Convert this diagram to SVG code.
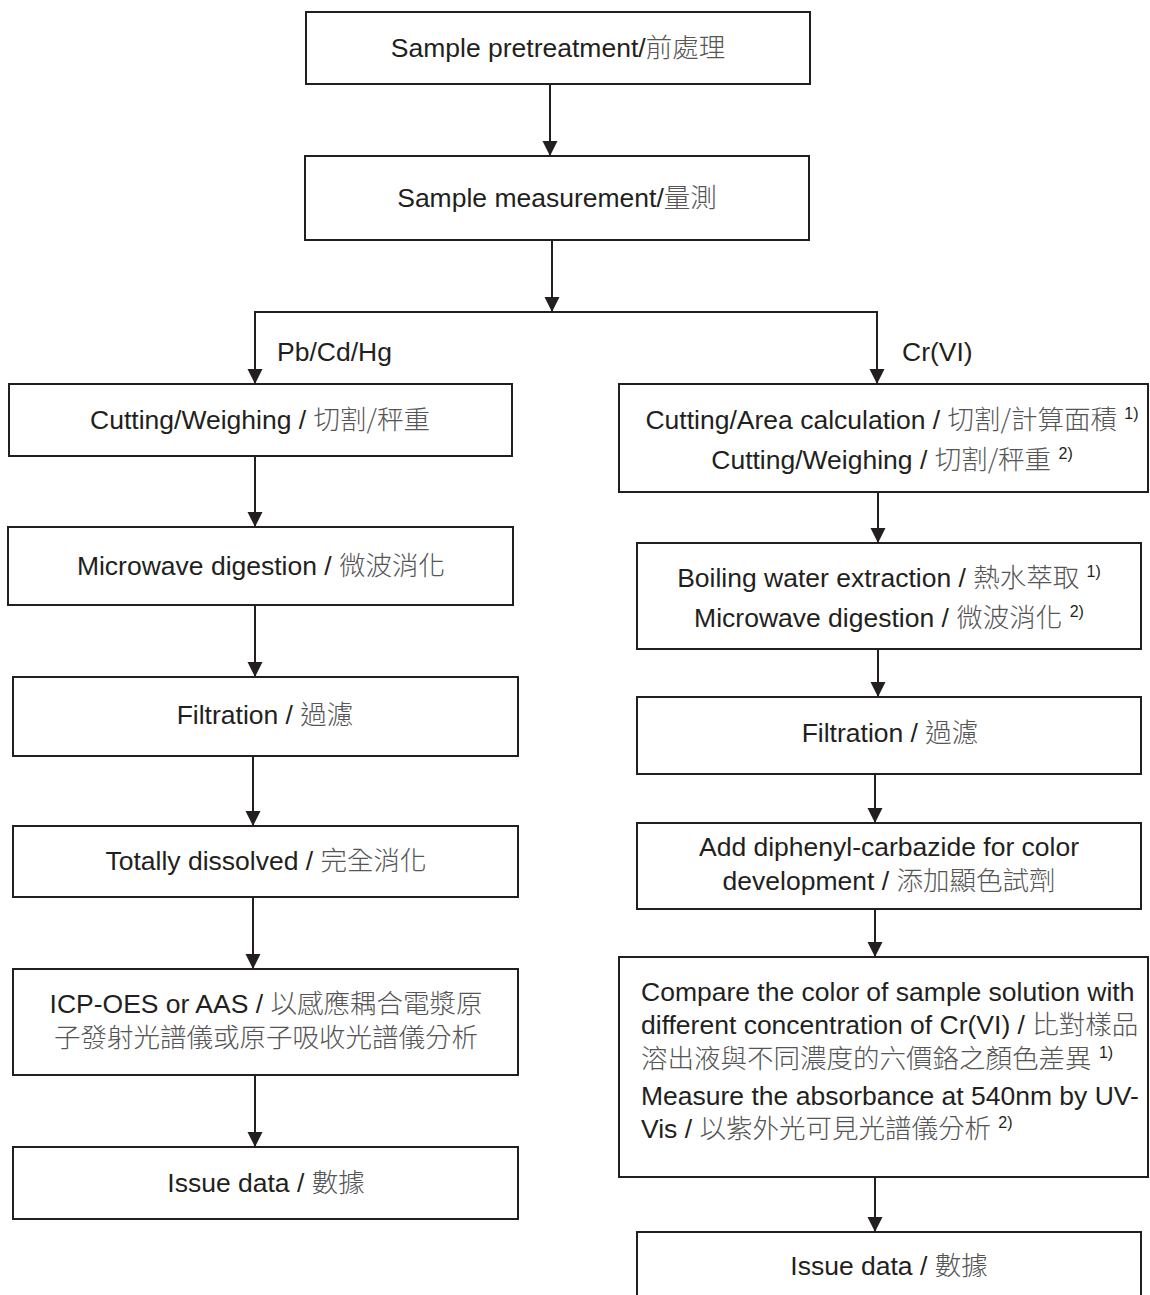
<svg xmlns="http://www.w3.org/2000/svg" width="1150" height="1295" viewBox="0 0 1150 1295">
<style>
  .box { fill: #ffffff; stroke: #231f20; stroke-width: 2; }
  .t { font-family: "Liberation Sans", "Noto Sans CJK TC", sans-serif; font-size: 26.5px; fill: #231f20; }
  .c { font-family: "Noto Sans CJK TC", sans-serif; font-weight: 300; fill: #555555; }
  .sup { font-size: 16px; }
  .mid { text-anchor: middle; }
  .conn { stroke: #231f20; stroke-width: 2; fill: none; }
</style>
<defs>
  <marker id="arr" markerUnits="userSpaceOnUse" markerWidth="17" markerHeight="17" refX="15" refY="7.5" orient="auto">
    <path d="M0,0 L15,7.5 L0,15 z" fill="#231f20"/>
  </marker>
</defs>
<rect width="1150" height="1295" fill="#ffffff"/>

<g id="connectors">
  <line class="conn" x1="550" y1="84" x2="550" y2="156" marker-end="url(#arr)"/>
  <line class="conn" x1="552" y1="240" x2="552" y2="312" marker-end="url(#arr)"/>
  <polyline class="conn" points="255,370 255,312 877,312 877,370" />
  <line class="conn" x1="255" y1="312" x2="255" y2="384" marker-end="url(#arr)"/>
  <line class="conn" x1="877" y1="312" x2="877" y2="384" marker-end="url(#arr)"/>
  <line class="conn" x1="255" y1="456" x2="255" y2="527" marker-end="url(#arr)"/>
  <line class="conn" x1="255" y1="605" x2="255" y2="677" marker-end="url(#arr)"/>
  <line class="conn" x1="253" y1="756" x2="253" y2="826" marker-end="url(#arr)"/>
  <line class="conn" x1="253" y1="897" x2="253" y2="969" marker-end="url(#arr)"/>
  <line class="conn" x1="255" y1="1075" x2="255" y2="1147" marker-end="url(#arr)"/>
  <line class="conn" x1="878" y1="492" x2="878" y2="543" marker-end="url(#arr)"/>
  <line class="conn" x1="878" y1="649" x2="878" y2="697" marker-end="url(#arr)"/>
  <line class="conn" x1="875" y1="774" x2="875" y2="823" marker-end="url(#arr)"/>
  <line class="conn" x1="875" y1="909" x2="875" y2="957" marker-end="url(#arr)"/>
  <line class="conn" x1="875" y1="1177" x2="875" y2="1232" marker-end="url(#arr)"/>
  <text class="t" x="277" y="361">Pb/Cd/Hg</text>
  <text class="t" x="902" y="361">Cr(VI)</text>
</g>

<g id="n1">
  <rect class="box" x="306" y="12" width="504" height="72"/>
  <text class="t mid" x="558" y="57">Sample pretreatment/<tspan class="c">前處理</tspan></text>
</g>
<g id="n2">
  <rect class="box" x="305" y="156" width="504" height="84"/>
  <text class="t mid" x="557" y="207">Sample measurement/<tspan class="c">量測</tspan></text>
</g>

<g id="l1">
  <rect class="box" x="9" y="384" width="503" height="72"/>
  <text class="t mid" x="260" y="429">Cutting/Weighing / <tspan class="c">切割/秤重</tspan></text>
</g>
<g id="l2">
  <rect class="box" x="8" y="527" width="505" height="78"/>
  <text class="t mid" x="261" y="575">Microwave digestion / <tspan class="c">微波消化</tspan></text>
</g>
<g id="l3">
  <rect class="box" x="13" y="677" width="505" height="79"/>
  <text class="t mid" x="265" y="724">Filtration / <tspan class="c">過濾</tspan></text>
</g>
<g id="l4">
  <rect class="box" x="13" y="826" width="505" height="71"/>
  <text class="t mid" x="266" y="870">Totally dissolved / <tspan class="c">完全消化</tspan></text>
</g>
<g id="l5">
  <rect class="box" x="13" y="969" width="505" height="106"/>
  <text class="t mid" x="266" y="1013">ICP-OES or AAS / <tspan class="c">以感應耦合電漿原</tspan></text>
  <text class="t mid" x="266" y="1047"><tspan class="c">子發射光譜儀或原子吸收光譜儀分析</tspan></text>
</g>
<g id="l6">
  <rect class="box" x="13" y="1147" width="505" height="72"/>
  <text class="t mid" x="266" y="1192">Issue data / <tspan class="c">數據</tspan></text>
</g>

<g id="r1">
  <rect class="box" x="619" y="384" width="529" height="108"/>
  <text class="t mid" x="892" y="429">Cutting/Area calculation / <tspan class="c">切割/計算面積</tspan> <tspan class="sup" dy="-10">1)</tspan></text>
  <text class="t mid" x="892" y="469">Cutting/Weighing / <tspan class="c">切割/秤重</tspan> <tspan class="sup" dy="-10">2)</tspan></text>
</g>
<g id="r2">
  <rect class="box" x="637" y="543" width="504" height="106"/>
  <text class="t mid" x="889" y="587">Boiling water extraction / <tspan class="c">熱水萃取</tspan> <tspan class="sup" dy="-10">1)</tspan></text>
  <text class="t mid" x="889" y="627">Microwave digestion / <tspan class="c">微波消化</tspan> <tspan class="sup" dy="-10">2)</tspan></text>
</g>
<g id="r3">
  <rect class="box" x="637" y="697" width="504" height="77"/>
  <text class="t mid" x="890" y="742">Filtration / <tspan class="c">過濾</tspan></text>
</g>
<g id="r4">
  <rect class="box" x="637" y="823" width="504" height="86"/>
  <text class="t mid" x="889" y="856">Add diphenyl-carbazide for color</text>
  <text class="t mid" x="889" y="890">development / <tspan class="c">添加顯色試劑</tspan></text>
</g>
<g id="r5">
  <rect class="box" x="619" y="957" width="529" height="220"/>
  <text class="t" x="641" y="1001">Compare the color of sample solution with</text>
  <text class="t" x="641" y="1034">different concentration of Cr(VI) / <tspan class="c">比對樣品</tspan></text>
  <text class="t" x="641" y="1068"><tspan class="c">溶出液與不同濃度的六價鉻之顏色差異</tspan> <tspan class="sup" dy="-10">1)</tspan></text>
  <text class="t" x="641" y="1105">Measure the absorbance at 540nm by UV-</text>
  <text class="t" x="641" y="1138">Vis / <tspan class="c">以紫外光可見光譜儀分析</tspan> <tspan class="sup" dy="-10">2)</tspan></text>
</g>
<g id="r6">
  <rect class="box" x="637" y="1232" width="504" height="80"/>
  <text class="t mid" x="889" y="1275">Issue data / <tspan class="c">數據</tspan></text>
</g>
</svg>
